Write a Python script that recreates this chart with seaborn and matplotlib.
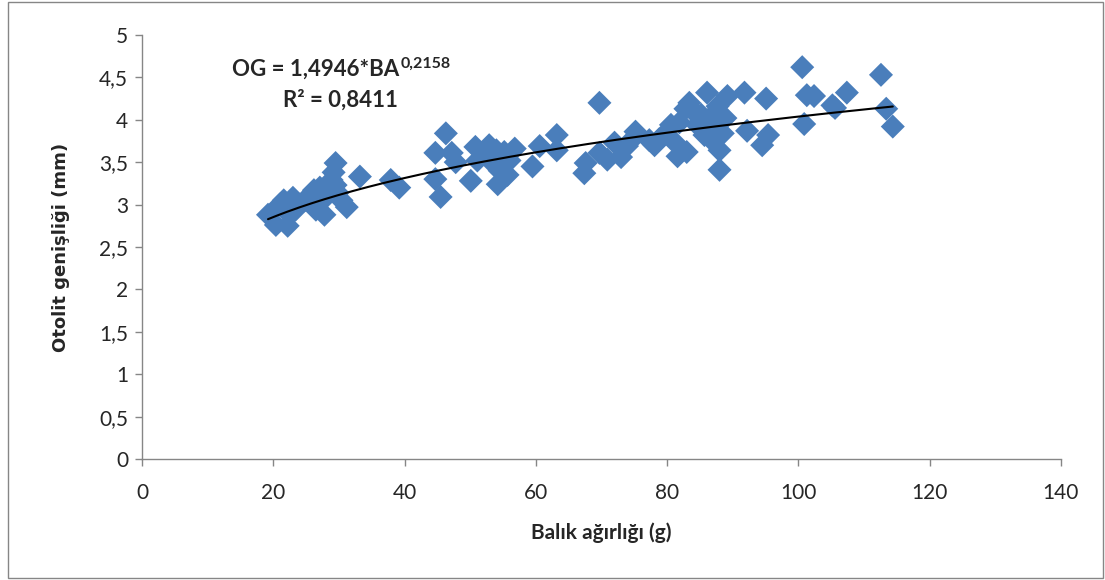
import numpy as np
import pandas as pd
import seaborn as sns
import matplotlib.pyplot as plt
from matplotlib.patches import Rectangle

# Balık ağırlığı (g) ve otolit genişliği (mm)
agirlik = [19.2, 20.4, 21.0, 21.6, 22.2, 22.5, 23.0, 23.4, 24.0, 24.8, 25.6, 26.2, 26.5,
           27.1, 27.4, 27.8, 28.3, 28.6, 28.9, 29.2, 29.5, 29.5, 29.8, 30.4, 31.2, 33.2,
           37.9, 39.2,
           44.7, 44.7, 45.5, 46.3, 47.2, 47.8, 50.1, 50.8, 51.1, 52.2, 52.9, 53.3, 54.0,
           54.2, 54.5, 55.2, 55.7, 56.0, 56.8, 59.5, 60.6, 63.2, 63.2,
           67.4, 67.6, 69.7, 69.7, 70.9, 72.0, 73.0, 73.9, 74.7, 75.2, 77.3, 78.1, 78.8,
           79.6, 80.6, 81.1, 81.6, 81.9, 82.8, 83.0, 83.4, 84.1, 84.6, 85.2, 85.7, 86.1,
           86.5, 86.8, 87.4, 87.7, 88.0, 88.0, 88.0, 88.5, 88.9, 89.2, 91.8, 92.2, 94.5,
           95.1, 95.4, 100.6, 100.9, 101.3, 102.4, 105.2, 105.6, 107.4, 112.6, 113.4, 114.4]
genislik = [2.88, 2.76, 3.00, 3.05, 2.75, 2.88, 3.08, 2.94, 3.00, 3.05, 3.11, 3.17, 2.94,
            3.20, 3.05, 2.88, 3.11, 3.17, 3.29, 3.38, 3.49, 3.23, 3.14, 3.05, 2.97, 3.33,
            3.29, 3.20,
            3.30, 3.61, 3.09, 3.84, 3.61, 3.50, 3.28, 3.68, 3.52, 3.61, 3.70, 3.50, 3.64,
            3.24, 3.40, 3.62, 3.35, 3.52, 3.66, 3.45, 3.69, 3.82, 3.64,
            3.37, 3.49, 4.20, 3.61, 3.53, 3.73, 3.56, 3.69, 3.77, 3.86, 3.76, 3.70, 3.77,
            3.83, 3.94, 3.74, 3.57, 3.97, 4.13, 3.62, 4.20, 4.09, 3.94, 4.06, 3.82, 4.32,
            4.02, 3.76, 3.90, 4.16, 4.06, 3.41, 3.64, 3.84, 4.02, 4.28, 4.32, 3.87, 3.70,
            4.25, 3.82, 4.62, 3.95, 4.29, 4.28, 4.17, 4.14, 4.32, 4.53, 4.13, 3.92]

# trend çizgisi: OG = a * BA^b
a, b = 1.4946, 0.2158

x_ticks = [0, 20, 40, 60, 80, 100, 120, 140]
y_ticks = [0, 0.5, 1, 1.5, 2, 2.5, 3, 3.5, 4, 4.5, 5]
y_labels = ['0', '0,5', '1', '1,5', '2', '2,5', '3', '3,5', '4', '4,5', '5']

df = pd.DataFrame({'BA': agirlik, 'OG': genislik})

sns.set_style('white')
plt.rcParams['font.family'] = ['Lato', 'DejaVu Sans']

fig = plt.figure(figsize=(11.05, 5.8), dpi=100)
ax = fig.add_axes([0.1285, 0.2086, 0.8315, 0.7311])

sns.scatterplot(data=df, x='BA', y='OG', marker='D', s=150, color='#4A7EBB',
                edgecolor='none', ax=ax, zorder=2)

xs = np.linspace(min(agirlik), max(agirlik), 200)
ax.plot(xs, a * xs ** b, color='black', lw=1.5, zorder=3)

ax.set_xlim(0, 140)
ax.set_ylim(0, 5)
ax.set_xticks(x_ticks)
ax.set_xticklabels([str(t) for t in x_ticks])
ax.set_yticks(y_ticks)
ax.set_yticklabels(y_labels)
ax.tick_params(axis='both', labelsize=15, length=5, width=1, color='#868686',
               direction='out')
ax.tick_params(axis='x', bottom=True, pad=12)
ax.tick_params(axis='y', left=True, pad=5)
for side in ['top', 'right']:
    ax.spines[side].set_visible(False)
for side in ['left', 'bottom']:
    ax.spines[side].set_color('#868686')
    ax.spines[side].set_linewidth(1)

ax.set_xlabel('Balık ağırlığı (g)', fontsize=15, fontweight='bold', labelpad=14)
ax.set_ylabel('Otolit genişliği (mm)', fontsize=13, fontweight='bold',
              family='DejaVu Sans', va='center')
ax.yaxis.set_label_coords(-0.088, 0.5)

# denklem ve R² metni
t1 = ax.text(0.098, 0.92, 'OG = 1,4946*BA', transform=ax.transAxes,
             fontsize=16, fontweight='bold', va='center')
ax.annotate('0,2158', xy=(1, 1), xycoords=t1, xytext=(1, 1), textcoords='offset points',
            fontsize=11.5, fontweight='bold', va='top', ha='left')
ax.text(0.153, 0.846, 'R² = 0,8411', transform=ax.transAxes,
        fontsize=16, fontweight='bold', va='center')

fig.patches.append(Rectangle((0.007, 0.003), 0.991, 0.994, transform=fig.transFigure,
                             fill=False, edgecolor='#868686', lw=1))

fig.savefig('out.png', dpi=100)
